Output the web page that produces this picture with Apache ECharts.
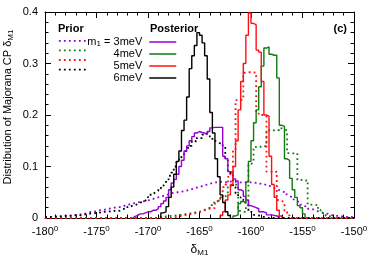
<!DOCTYPE html>
<html>
<head>
<meta charset="utf-8">
<script src="https://cdn.jsdelivr.net/npm/echarts@6/dist/echarts.min.js"></script>
<style>
html,body{margin:0;padding:0;background:#fff;}
#chart{width:374px;height:262px;}
</style>
</head>
<body>
<div id="chart"></div>
<script>
// ---------- data ----------
const binWidth = 0.25;
const xTicks = [-180, -175, -170, -165, -160, -155, -150];
const yTicks = [0, 0.1, 0.2, 0.3, 0.4];
const massLabels = ['3meV', '4meV', '5meV', '6meV'];

// Prior distributions (dotted), bins of 0.25 deg starting at the given edge
const prior3Start = -180;
const prior3 = [
  0.001,0.001,0.002,0.002,0.002,0.003,0.003,0.004,0.004,0.005,
  0.005,0.006,0.007,0.007,0.008,0.009,0.011,0.012,0.013,0.013,
  0.015,0.016,0.016,0.017,0.018,0.019,0.020,0.021,0.021,0.022,
  0.024,0.025,0.027,0.028,0.029,0.030,0.031,0.032,0.033,0.034,
  0.036,0.037,0.039,0.040,0.041,0.043,0.044,0.046,0.048,0.049,
  0.050,0.050,0.051,0.052,0.053,0.055,0.056,0.058,0.059,0.060,
  0.062,0.064,0.065,0.066,0.068,0.069,0.069,0.070,0.070,0.069,
  0.070,0.071,0.070,0.070,0.070,0.069,0.070,0.069,0.070,0.069,
  0.069,0.068,0.068,0.066,0.066,0.064,0.063,0.060,0.058,0.056,
  0.054,0.052,0.050,0.046,0.043,0.040,0.036,0.033,0.030,0.026,
  0.023,0.022,0.018,0.017,0.015,0.013,0.012,0.010,0.009,0.008,
  0.006,0.005,0.004,0.004,0.003,0.003,0.002,0.002,0.002,0.001
];
const prior4Start = -169;
const prior4 = [
  0.002,0.002,0.003,0.003,0.004,0.004,0.005,0.006,0.006,0.007,
  0.008,0.009,0.009,0.010,0.012,0.012,0.014,0.016,0.018,0.020,
  0.025,0.030,0.032,0.035,0.040,0.042,0.045,0.062,0.065,0.065,
  0.065,0.014,0.012,0.012,0.020,0.105,0.108,0.138,0.140,0.138,
  0.140,0.139,0.170,0.172,0.170,0.172,0.170,0.174,0.172,0.170,
  0.126,0.126,0.125,0.126,0.074,0.074,0.072,0.074,0.026,0.026,
  0.025,0.026,0.016,0.010,0.010,0.004,0.003
];
const prior5Start = -167.5;
const prior5 = [
  0.002,0.003,0.004,0.005,0.006,0.007,0.008,0.009,0.010,0.012,
  0.013,0.015,0.016,0.018,0.017,0.020,0.032,0.036,0.040,0.060,
  0.065,0.080,0.090,0.130,0.229,0.229,0.230,0.282,0.283,0.283,
  0.283,0.282,0.205,0.200,0.200,0.198,0.090,0.090,0.088,0.090,
  0.035,0.033,0.030,0.012,0.005
];
const prior6Start = -180;
const prior6 = [
  0.002,0.002,0.002,0.003,0.002,0.003,0.003,0.004,0.003,0.004,
  0.005,0.005,0.006,0.005,0.007,0.007,0.008,0.009,0.009,0.010,
  0.011,0.010,0.012,0.012,0.013,0.012,0.014,0.015,0.014,0.017,
  0.018,0.018,0.022,0.024,0.025,0.027,0.030,0.031,0.034,0.036,
  0.041,0.047,0.050,0.053,0.057,0.063,0.066,0.075,0.082,0.088,
  0.100,0.108,0.118,0.120,0.130,0.136,0.140,0.150,0.148,0.156,
  0.155,0.162,0.165,0.163,0.158,0.150,0.148,0.145,0.145,0.140,
  0.112,0.090,0.085,0.060,0.048,0.040,0.036,0.030,0.030,0.012,
  0.010,0.006,0.005,0.003,0.002,0.001
];

// Posterior distributions (solid)
const post3Start = -171.5;
const post3 = [
  0.003,0.005,0.008,0.008,0.010,0.012,0.012,0.015,0.015,0.018,
  0.022,0.028,0.033,0.040,0.055,0.068,0.075,0.085,0.100,0.112,
  0.130,0.140,0.150,0.158,0.165,0.168,0.166,0.165,0.162,0.168,
  0.175,0.176,0.176,0.176,0.176,0.120,0.115,0.090,0.088,0.076,
  0.072,0.055,0.052,0.042,0.035,0.024,0.022,0.020,0.018,0.012,
  0.012,0.010,0.006,0.006,0.005,0.004,0.003
];
const post4Start = -161.75;
const post4 = [
  0.004,0.006,0.028,0.032,0.030,0.070,0.110,0.150,0.185,0.210,
  0.255,0.295,0.330,0.332,0.318,0.316,0.316,0.272,0.180,0.178,
  0.115,0.112,0.077,0.055,0.040,0.024,0.020,0.008
];
const post5Start = -163;
const post5 = [
  0.005,0.012,0.035,0.045,0.065,0.100,0.150,0.210,0.265,0.300,
  0.355,0.398,0.378,0.375,0.326,0.322,0.265,0.200,0.198,0.120,
  0.065,0.040,0.015,0.004
];
const post6Start = -168.75;
const post6 = [
  0.010,0.012,0.022,0.040,0.060,0.085,0.110,0.130,0.170,0.190,
  0.235,0.290,0.315,0.335,0.360,0.355,0.340,0.315,0.270,0.205,
  0.165,0.115,0.080,0.045,0.030,0.012,0.005
];

// ---------- styling ----------
const FONT = '"Liberation Sans", Arial, Helvetica, sans-serif';
const colors = ['#9400d3', '#117a11', '#ff1010', '#000000'];
const xMin = xTicks[0], xMax = xTicks[xTicks.length - 1];
const yMin = yTicks[0], yMax = yTicks[yTicks.length - 1];

function histPoints(start, vals, padFull) {
  const pts = [];
  const n = vals.length;
  if (padFull) {
    const nPre = Math.round((start - xMin) / binWidth);
    for (let i = 0; i < nPre; i++) pts.push([xMin + i * binWidth, 0]);
  } else {
    pts.push([start, 0]);
  }
  for (let i = 0; i < n; i++) pts.push([start + i * binWidth, vals[i]]);
  const end = start + n * binWidth;
  pts.push([end, 0]);
  if (padFull) {
    const nPost = Math.round((xMax - end) / binWidth);
    for (let i = 1; i <= nPost; i++) pts.push([end + i * binWidth, 0]);
  }
  return pts;
}

const priors = [[prior3Start, prior3], [prior4Start, prior4], [prior5Start, prior5], [prior6Start, prior6]];
const posts = [[post3Start, post3], [post4Start, post4], [post5Start, post5], [post6Start, post6]];

const series = [];
priors.forEach((p, i) => {
  series.push({
    name: 'prior' + i, type: 'line', step: 'end', symbol: 'none', silent: true,
    data: histPoints(p[0], p[1], true),
    lineStyle: { color: colors[i], width: 1.8, type: [1.8, 3.2] },
    itemStyle: { color: colors[i] },
    z: 2
  });
});
posts.forEach((p, i) => {
  series.push({
    name: 'post' + i, type: 'line', step: 'end', symbol: 'none', silent: true,
    data: histPoints(p[0], p[1], false),
    lineStyle: { color: colors[i], width: 1.4, type: 'solid' },
    itemStyle: { color: colors[i] },
    z: 3
  });
});

const tickCommon = {
  axisLine: { show: true, onZero: false, lineStyle: { color: '#000', width: 1 } },
  axisTick: { show: true, inside: true, length: 6, lineStyle: { color: '#000', width: 1 } },
  minorTick: { show: true, splitNumber: 5, length: 3.5, lineStyle: { color: '#000', width: 1 } },
  splitLine: { show: false },
  minorSplitLine: { show: false }
};

const xAxisBase = Object.assign({
  type: 'value', min: xMin, max: xMax, interval: xTicks[1] - xTicks[0]
}, tickCommon);
const yAxisBase = Object.assign({
  type: 'value', min: yMin, max: yMax, interval: yTicks[1] - yTicks[0]
}, tickCommon);

const chart = echarts.init(document.getElementById('chart'), null, { renderer: 'canvas' });
chart.setOption({
  animation: false,
  backgroundColor: '#fff',
  textStyle: { fontFamily: FONT },
  grid: { left: 45, right: 20, top: 12, bottom: 44, containLabel: false, outerBoundsMode: 'none' },
  xAxis: [
    Object.assign({}, xAxisBase, {
      position: 'bottom',
      name: 'δ{sub|M1}', nameLocation: 'middle', nameGap: 25,
      nameTextStyle: { color: '#000', fontSize: 12, fontFamily: FONT,
        rich: { sub: { fontSize: 8, fontFamily: FONT, color: '#000', verticalAlign: 'bottom', padding: [6, 0, 0, 0] } } },
      axisLabel: {
        show: true, margin: 7, color: '#000', fontSize: 11, fontFamily: FONT,
        formatter: v => v + '{s|0}',
        rich: { s: { fontSize: 8, fontFamily: FONT, color: '#000', verticalAlign: 'top', padding: [0, 0, 5, 0] } }
      }
    }),
    Object.assign({}, xAxisBase, { position: 'top', axisLabel: { show: false } })
  ],
  yAxis: [
    Object.assign({}, yAxisBase, {
      position: 'left',
      axisLabel: { show: true, margin: 7, color: '#000', fontSize: 11, fontFamily: FONT,
        formatter: v => (v === 0 ? '0' : v.toFixed(1)) }
    }),
    Object.assign({}, yAxisBase, { position: 'right', axisLabel: { show: false } })
  ],
  legend: [
    {
      data: ['prior0', 'prior1', 'prior2', 'prior3'],
      orient: 'vertical', left: 58, top: 36, padding: 0,
      itemWidth: 30, itemHeight: 12, itemGap: 0, selectedMode: false,
      formatter: () => '',
      textStyle: { fontSize: 11, lineHeight: 12 },
      itemStyle: { opacity: 0 },
      lineStyle: { width: 1.8, type: [1.8, 3.2] }
    },
    {
      data: ['post0', 'post1', 'post2', 'post3'],
      orient: 'vertical', align: 'right', right: 197, top: 36, padding: 0,
      itemWidth: 27, itemHeight: 12, itemGap: 0, selectedMode: false,
      formatter: name => {
        const i = +name.slice(4);
        return i === 0 ? 'm{sub|1} = ' + massLabels[0] : massLabels[i];
      },
      textStyle: { color: '#000', fontSize: 11, lineHeight: 12, fontFamily: FONT, padding: [0, 2, 0, 0],
        rich: { sub: { fontSize: 8, fontFamily: FONT, color: '#000', verticalAlign: 'bottom', padding: [4, 0, 0, 0] } } },
      itemStyle: { opacity: 0 },
      lineStyle: { width: 1.5, type: 'solid' }
    }
  ],
  graphic: [
    { type: 'text', x: 58, y: 29, silent: true,
      style: { text: 'Prior', font: 'bold 11px ' + FONT, fill: '#000', verticalAlign: 'middle' } },
    { type: 'text', x: 150, y: 29, silent: true,
      style: { text: 'Posterior', font: 'bold 11px ' + FONT, fill: '#000', verticalAlign: 'middle' } },
    { type: 'text', x: 347, y: 28.5, silent: true,
      style: { text: '(c)', font: 'bold 11px ' + FONT, fill: '#000', align: 'right', verticalAlign: 'middle' } },
    { type: 'text', x: 8, y: 107, rotation: Math.PI / 2, silent: true,
      style: { text: 'Distribution of Majorana CP δ{sub|M1}', font: '11px ' + FONT, fill: '#000',
        align: 'center', verticalAlign: 'middle',
        rich: { sub: { font: '8px ' + FONT, fill: '#000', verticalAlign: 'bottom', padding: [5, 0, 0, 0] } } } }
  ],
  series: series
});
</script>
</body>
</html>
